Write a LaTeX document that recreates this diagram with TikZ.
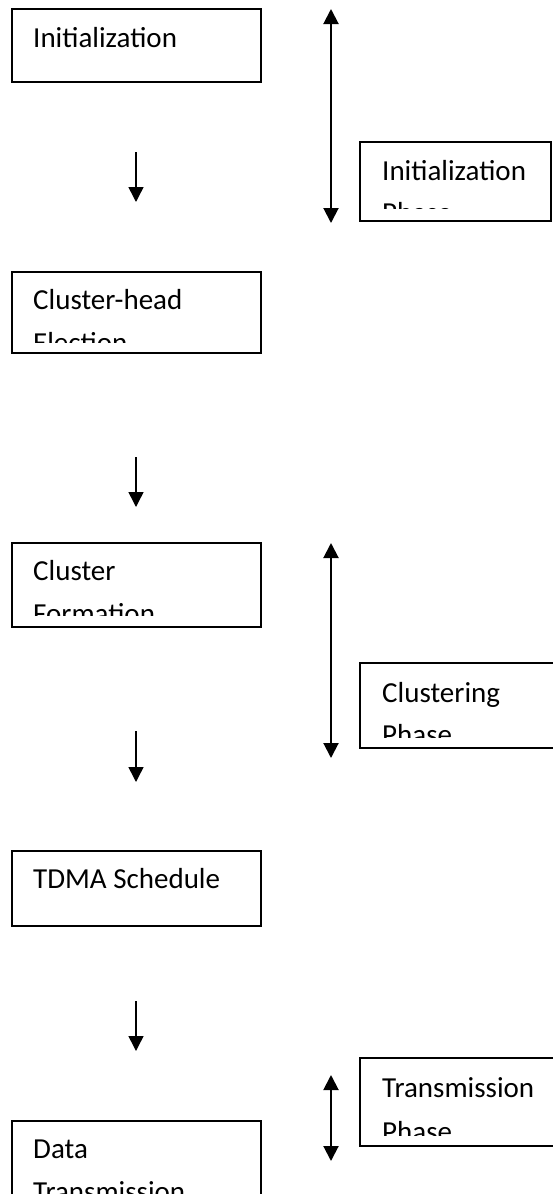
\documentclass[tikz,border=0pt]{standalone}
\usepackage{fontspec}
\setmainfont{Carlito}
\usetikzlibrary{arrows.meta}

\begin{document}
\begin{tikzpicture}[x=1pt, y=-1pt,
    box/.style={draw=black, line width=1.5pt},
    txt/.style={anchor=base west, inner sep=0pt, font=\fontsize{29}{35}\selectfont},
    flow/.style={line width=1.5pt, -{Triangle[width=15pt,length=15pt]}},
    phasearrow/.style={line width=2pt, {Triangle[width=15pt,length=15pt]}-{Triangle[width=15pt,length=15pt]}}]
            \useasboundingbox (0,0) rectangle (553,1194);

            % steps on the left
            \begin{scope}
                \clip (12,9) rectangle (261,71);
                \node[txt] (init) at (33,47) {Initialization};
            \end{scope}
            \draw[box] (12,9) rectangle (261,82);

            \begin{scope}
                \clip (12,272) rectangle (261,342);
                \node[txt] (chead) at (33,309) {Cluster-head};
                \node[txt] (chead2) at (33,352) {Election};
            \end{scope}
            \draw[box] (12,272) rectangle (261,353);

            \begin{scope}
                \clip (12,543) rectangle (261,615);
                \node[txt] (cform) at (33,580) {Cluster};
                \node[txt] (cform2) at (33,623) {Formation};
            \end{scope}
            \draw[box] (12,543) rectangle (261,627);

            \begin{scope}
                \clip (12,851) rectangle (261,915);
                \node[txt] (tdma) at (33,888) {TDMA Schedule};
            \end{scope}
            \draw[box] (12,851) rectangle (261,926);

            \begin{scope}
                \clip (12,1121) rectangle (261,1194);
                \node[txt] (data) at (33,1158) {Data};
                \node[txt] (data2) at (33,1201) {Transmission};
            \end{scope}
            \draw[box] (12,1121) rectangle (261,1220);

            % phases on the right
            \begin{scope}
                \clip (360,142) rectangle (551,208);
                \node[txt] (initp) at (382,180) {Initialization};
                \node[txt] (initp2) at (382,222) {Phase};
            \end{scope}
            \draw[box] (360,142) rectangle (551,221);

            \begin{scope}
                \clip (360,663) rectangle (570,737);
                \node[txt] (clusp) at (382,702) {Clustering};
                \node[txt] (clusp2) at (382,744) {Phase};
            \end{scope}
            \draw[box] (360,663) rectangle (570,748);

            \begin{scope}
                \clip (360,1058) rectangle (570,1135);
                \node[txt] (transp) at (382,1097) {Transmission};
                \node[txt] (transp2) at (382,1141) {Phase};
            \end{scope}
            \draw[box] (360,1058) rectangle (570,1146);

            % arrows
            \coordinate (d1a) at (136,152);  \coordinate (d1b) at (136,202);
            \coordinate (d2a) at (136,457);  \coordinate (d2b) at (136,507);
            \coordinate (d3a) at (136,731);  \coordinate (d3b) at (136,782);
            \coordinate (d4a) at (136,1001); \coordinate (d4b) at (136,1051);

            \draw[flow] (d1a) -- (d1b);
            \draw[flow] (d2a) -- (d2b);
            \draw[flow] (d3a) -- (d3b);
            \draw[flow] (d4a) -- (d4b);

            \coordinate (p1a) at (331,9);    \coordinate (p1b) at (331,223);
            \coordinate (p2a) at (331,543);  \coordinate (p2b) at (331,758);
            \coordinate (p3a) at (331,1075); \coordinate (p3b) at (331,1161);

            \draw[phasearrow] (p1a) -- (p1b);
            \draw[phasearrow] (p2a) -- (p2b);
            \draw[phasearrow] (p3a) -- (p3b);

        \end{tikzpicture}
\end{document}
